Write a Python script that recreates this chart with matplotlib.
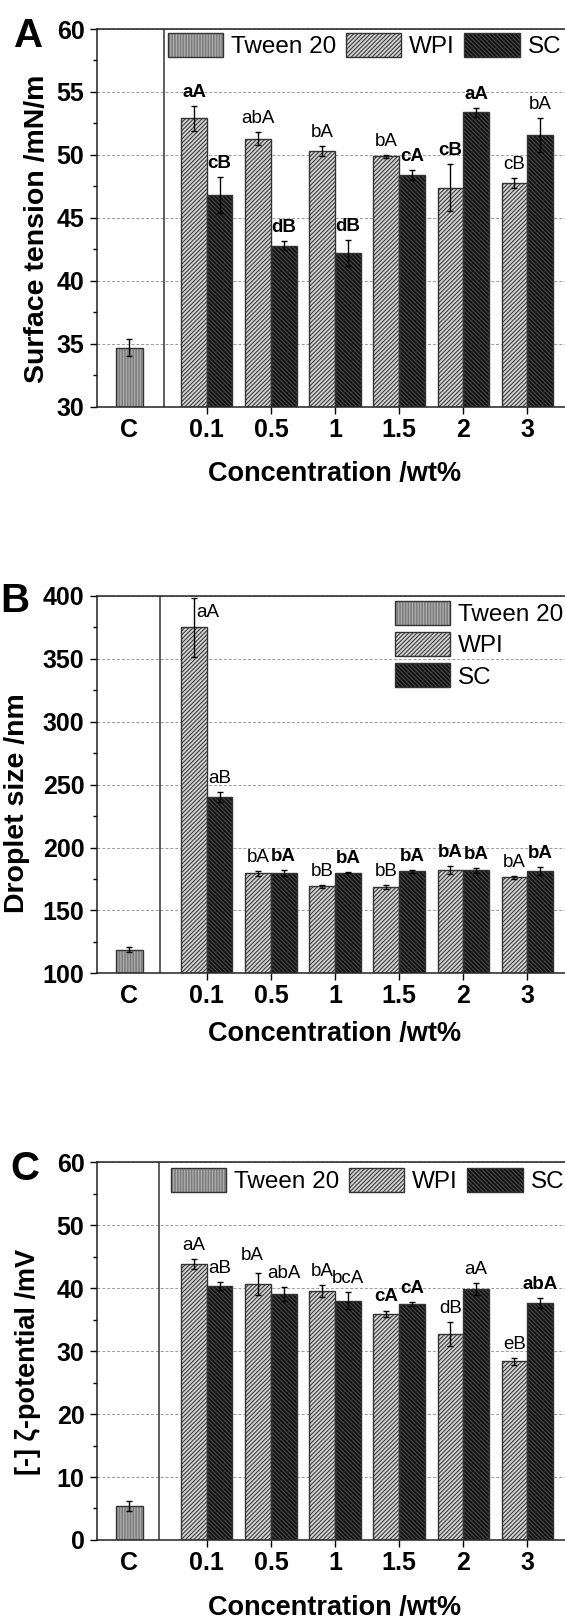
import matplotlib
matplotlib.use('Agg')
import matplotlib.pyplot as plt
from matplotlib.patches import Patch
from matplotlib.ticker import MultipleLocator

plt.rcParams.update({'font.family': ['Liberation Sans', 'DejaVu Sans'],
                     'font.weight': 'bold',
                     'axes.labelweight': 'bold',
                     'hatch.linewidth': 0.8})

concentrations = ['0.1', '0.5', '1', '1.5', '2', '3']
series_names = ['Tween 20', 'WPI', 'SC']

# A: surface tension /mN/m
tween_st, tween_st_err = 34.7, 0.7
wpi_st = [52.9, 51.3, 50.3, 49.9, 47.4, 47.8]
wpi_st_err = [1.0, 0.5, 0.4, 0.12, 1.85, 0.4]
sc_st = [46.8, 42.8, 42.2, 48.4, 53.4, 51.6]
sc_st_err = [1.45, 0.35, 1.05, 0.4, 0.35, 1.35]
wpi_st_lab = ['aA', 'abA', 'bA', 'bA', 'cB', 'cB']
wpi_st_bold = [1, 0, 0, 0, 1, 0]
sc_st_lab = ['cB', 'dB', 'dB', 'cA', 'aA', 'bA']
sc_st_bold = [1, 1, 1, 1, 1, 0]

# B: droplet size /nm
tween_ds, tween_ds_err = 118.8, 1.8
wpi_ds = [374.9, 179.7, 169.1, 168.6, 182.3, 176.2]
wpi_ds_err = [23.5, 2.0, 1.0, 1.5, 3.0, 1.0]
sc_ds = [240.0, 180.0, 180.0, 181.0, 181.8, 181.3]
sc_ds_err = [4.0, 2.5, 0.5, 1.0, 2.0, 3.0]
wpi_ds_lab = ['aA', 'bA', 'bB', 'bB', 'bA', 'bA']
wpi_ds_bold = [0, 0, 0, 0, 1, 0]
sc_ds_lab = ['aB', 'bA', 'bA', 'bA', 'bA', 'bA']
sc_ds_bold = [0, 1, 1, 1, 1, 1]

# C: zeta potential /mV
tween_zp, tween_zp_err = 5.4, 0.75
wpi_zp = [43.9, 40.7, 39.5, 35.9, 32.7, 28.35]
wpi_zp_err = [0.8, 1.75, 0.95, 0.55, 1.85, 0.5]
sc_zp = [40.3, 39.1, 38.0, 37.45, 39.8, 37.7]
sc_zp_err = [0.6, 1.1, 1.35, 0.3, 0.95, 0.8]
wpi_zp_lab = ['aA', 'bA', 'bA', 'cA', 'dB', 'eB']
wpi_zp_bold = [0, 0, 0, 1, 0, 0]
sc_zp_lab = ['aB', 'abA', 'bcA', 'cA', 'aA', 'abA']
sc_zp_bold = [0, 0, 0, 1, 0, 1]

# bar styles: face, hatch colour, hatch
styles = {'Tween 20': ('#7e7e7e', '#b0b0b0', '||||||'),
          'WPI': ('#d4d4d4', '#3c3c3c', '////////'),
          'SC': ('#121212', '#4a4a4a', '\\' * 8)}
outline = '#333333'
W = 0.4
C_POS = -0.21


def hbar(ax, x, h, name, width=W, bottom=0):
    face, hc, hatch = styles[name]
    ax.bar(x, h, width, bottom=bottom, color=face, edgecolor=hc, hatch=hatch,
           linewidth=0, zorder=2)
    ax.bar(x, h, width, bottom=bottom, fill=False, edgecolor=outline,
           linewidth=1.0, zorder=3)


def panel(ax, ylim, major, tween, tween_err, wpi, wpi_err, sc, sc_err,
          wpi_lab, wpi_bold, sc_lab, sc_bold, sep, special=None):
    special = special or {}
    groups = list(range(1, len(concentrations) + 1))
    base = ylim[0]
    xw = [g - W / 2 for g in groups]
    xs = [g + W / 2 for g in groups]
    hbar(ax, C_POS, tween - base, 'Tween 20', width=0.42, bottom=base)
    hbar(ax, xw, [v - base for v in wpi], 'WPI', bottom=base)
    hbar(ax, xs, [v - base for v in sc], 'SC', bottom=base)
    ax.errorbar([C_POS] + xw + xs, [tween] + wpi + sc,
                yerr=[tween_err] + wpi_err + sc_err, fmt='none',
                ecolor='black', elinewidth=1, capsize=2.5, capthick=1,
                zorder=4)
    for key, xx, vals, errs, labs, bolds in (('w', xw, wpi, wpi_err, wpi_lab, wpi_bold),
                                             ('s', xs, sc, sc_err, sc_lab, sc_bold)):
        for i in range(len(vals)):
            dx, dy, ha = special.get((key, i), (0, 6.5, 'center'))
            ax.annotate(labs[i], (xx[i], vals[i] + errs[i]), xytext=(dx, dy),
                        textcoords='offset points', ha=ha, va='baseline',
                        fontsize=13.5,
                        fontweight='bold' if bolds[i] else 'normal',
                        zorder=5)
    ax.axvline(sep, color=outline, linewidth=1.1, zorder=1)
    ax.set_xlim(-0.708, 6.8)
    ax.set_ylim(*ylim)
    ax.yaxis.set_major_locator(MultipleLocator(major))
    ax.yaxis.set_minor_locator(MultipleLocator(major / 2))
    ax.set_xticks([C_POS] + groups)
    ax.set_xticklabels(['C'] + concentrations)
    ax.xaxis.get_major_ticks()[0].tick1line.set_visible(False)
    ax.tick_params(axis='y', which='major', direction='out', length=5.3,
                   width=1, labelsize=18, pad=4)
    ax.tick_params(axis='y', which='minor', direction='out', length=3, width=1)
    ax.tick_params(axis='x', direction='out', length=5.3, width=1,
                   labelsize=18, pad=2.5)
    ax.yaxis.grid(True, linestyle=(0, (3, 2)), color='#9a9a9a', linewidth=0.7)
    ax.set_axisbelow(True)
    for s in ax.spines.values():
        s.set_linewidth(1.1)
        s.set_color('#222222')
    ax.set_xlabel('Concentration /wt%', fontsize=19.5)


def legend_handles():
    hs = []
    for n in series_names:
        face, hc, hatch = styles[n]
        hs.append((Patch(facecolor=face, edgecolor=hc, hatch=hatch, linewidth=0),
                   Patch(fill=False, edgecolor=outline, linewidth=1.0)))
    return hs


fig = plt.figure(figsize=(5.65, 16.21), dpi=100)

axA = fig.add_axes([0.1722, 0.7491, 0.8518, 0.2330])
panel(axA, (30, 60), 5, tween_st, tween_st_err, wpi_st, wpi_st_err, sc_st, sc_st_err,
      wpi_st_lab, wpi_st_bold, sc_st_lab, sc_st_bold, sep=0.337)
axA.set_ylabel('Surface tension /mN/m', fontsize=20.5)
axA.yaxis.set_label_coords(-0.099, 0.47)
axA.xaxis.set_label_coords(0.492, -0.144)

axB = fig.add_axes([0.1722, 0.3995, 0.8518, 0.2330])
panel(axB, (100, 400), 50, tween_ds, tween_ds_err, wpi_ds, wpi_ds_err, sc_ds, sc_ds_err,
      wpi_ds_lab, wpi_ds_bold, sc_ds_lab, sc_ds_bold, sep=0.264,
      special={('w', 0): (1.5, -14, 'left')})
axB.set_ylabel('Droplet size /nm', fontsize=20.5)
axB.yaxis.set_label_coords(-0.140, 0.45)
axB.xaxis.set_label_coords(0.492, -0.127)

axC = fig.add_axes([0.1722, 0.0500, 0.8518, 0.2330])
panel(axC, (0, 60), 10, tween_zp, tween_zp_err, wpi_zp, wpi_zp_err, sc_zp, sc_zp_err,
      wpi_zp_lab, wpi_zp_bold, sc_zp_lab, sc_zp_bold, sep=0.248,
      special={('w', 1): (-4, 9.5, 'center')})
axC.set_ylabel('[-] ζ-potential /mV', fontsize=19.5)
axC.yaxis.set_label_coords(-0.117, 0.47)
axC.xaxis.set_label_coords(0.492, -0.146)

leg_kw = dict(frameon=False, borderpad=0, borderaxespad=0,
              handlelength=2.27, handleheight=1.14, handletextpad=0.33,
              prop={'size': 17.5, 'weight': 'normal'},
              bbox_transform=fig.transFigure, loc='upper left')
axA.legend(legend_handles(), series_names, ncol=3, columnspacing=0.4,
           bbox_to_anchor=(0.2966, 0.9795), **leg_kw)
axB.legend(legend_handles(), series_names, ncol=1, labelspacing=0.25,
           bbox_to_anchor=(0.6984, 0.6294), **leg_kw)
axC.legend(legend_handles(), series_names, ncol=3, columnspacing=0.4,
           bbox_to_anchor=(0.3018, 0.2793), **leg_kw)

fig.text(0.025, 1 - 46.7 / 1621, 'A', fontsize=29, ha='left', va='baseline')
fig.text(0.0, 1 - 611.5 / 1621, 'B', fontsize=29, ha='left', va='baseline')
fig.text(0.019, 1 - 1180 / 1621, 'C', fontsize=29, ha='left', va='baseline')

fig.savefig('out.png', dpi=100)
